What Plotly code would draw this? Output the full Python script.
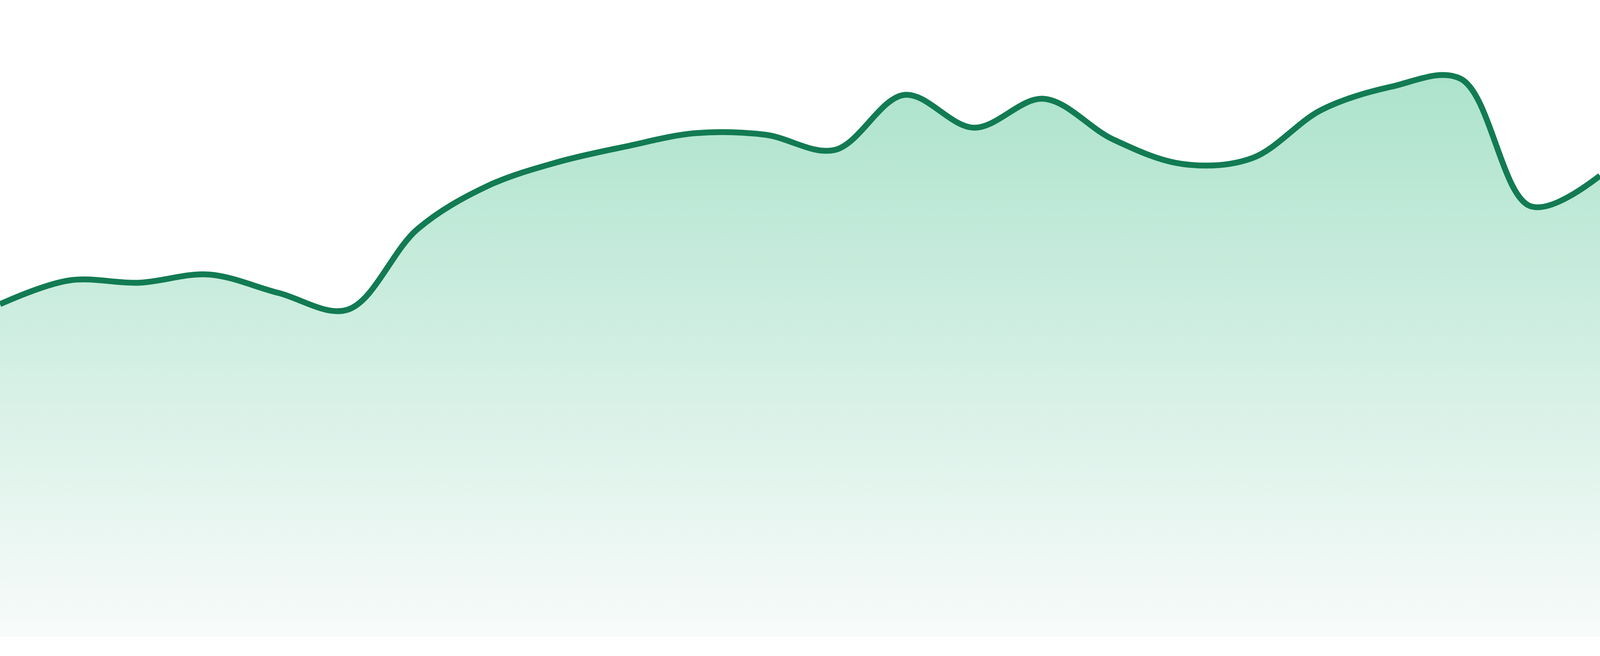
import plotly.graph_objects as go

# ---- data ----
points = list(range(1, 25))
values = [85.2, 91.3, 90.7, 92.8, 88.1, 83.8, 104.4, 115.4, 121.5, 125.6,
          129.0, 128.6, 124.7, 138.8, 130.4, 137.8, 127.4, 121.1, 122.6, 135.0,
          140.9, 142.9, 110.3, 118.1]

LINE_COLOR = "#127b53"
FILL_TOP = "#ade3cd"
FILL_BOTTOM = "#f8fbfa"

fig = go.Figure()
fig.add_trace(go.Scatter(
    x=points,
    y=values,
    mode="lines",
    line=dict(color=LINE_COLOR, width=15, shape="spline", smoothing=1.0),
    fill="tozeroy",
    fillgradient=dict(
        type="vertical",
        colorscale=[[0, FILL_BOTTOM], [1, FILL_TOP]],
        start=0,
        stop=max(values),
    ),
    hoverinfo="skip",
))

fig.update_layout(
    autosize=True,
    margin=dict(l=0, r=0, t=0, b=0, pad=0),
    paper_bgcolor="white",
    plot_bgcolor="white",
    showlegend=False,
    xaxis=dict(visible=False, range=[points[0], points[-1]], fixedrange=True),
    yaxis=dict(visible=False, range=[-4.9, 163.1], fixedrange=True),
)

post = (
    "document.documentElement.style.margin='0';"
    "document.documentElement.style.overflow='hidden';"
    "document.body.style.margin='0';"
    "document.body.style.padding='0';"
    "document.body.style.overflow='hidden';"
    "var gd=document.getElementById('{plot_id}');"
    "gd.style.width='100vw';gd.style.height='100vh';"
    "Plotly.Plots.resize(gd);"
)

fig.write_html(
    "out.html",
    config={"displayModeBar": False, "responsive": True},
    default_width="100vw",
    default_height="100vh",
    post_script=post,
)
